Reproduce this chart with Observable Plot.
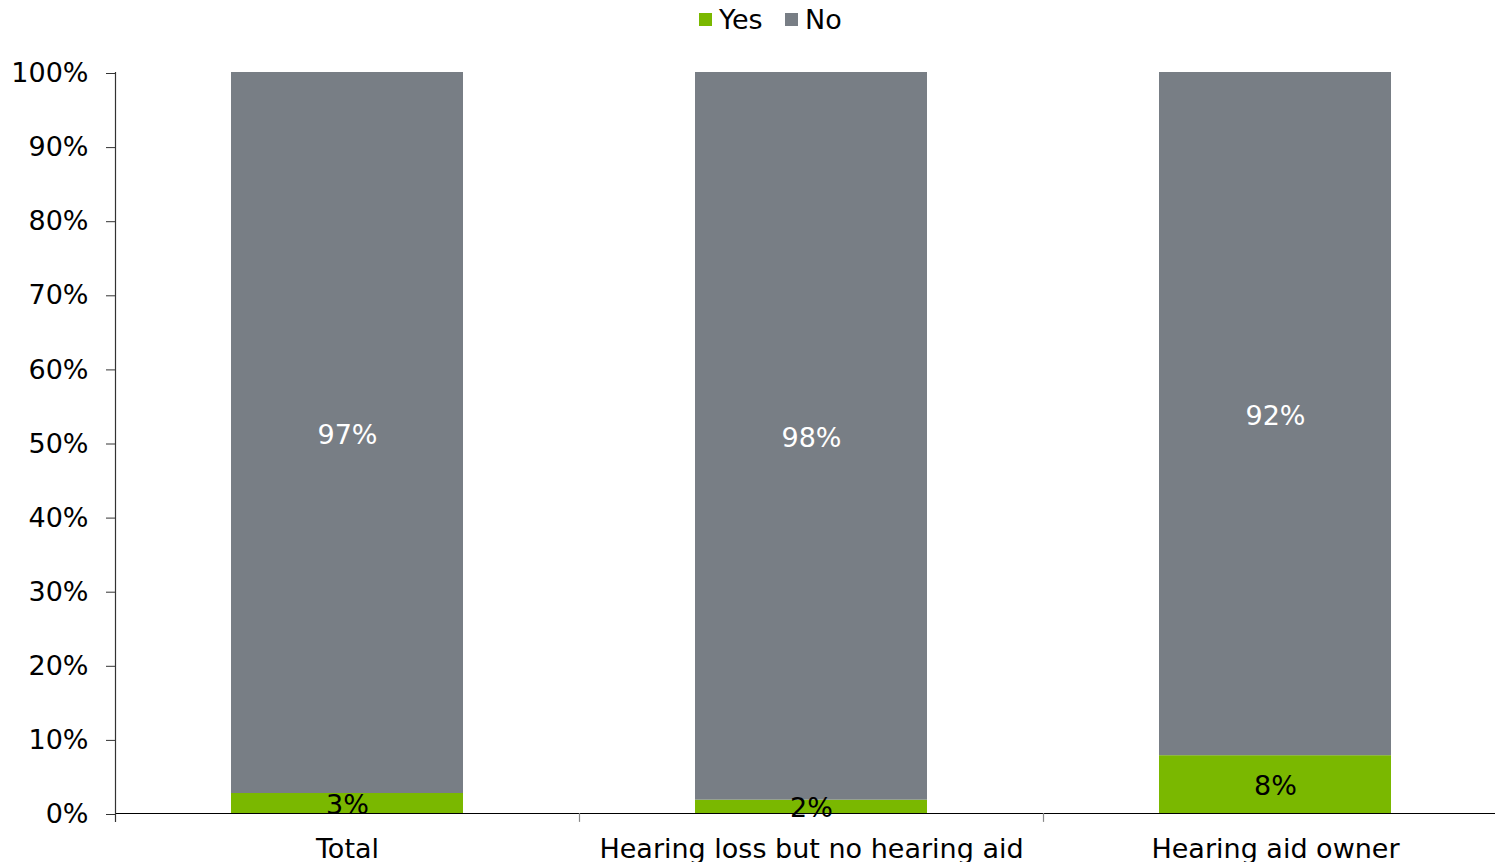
<!DOCTYPE html>
<html>
<head>
<meta charset="utf-8">
<script src="https://cdn.jsdelivr.net/npm/d3@7"></script>
<script src="https://cdn.jsdelivr.net/npm/@observablehq/plot@0.6"></script>
<style>
  html, body { margin: 0; padding: 0; background: #fff; overflow: hidden; }
  body { width: 1495px; height: 862px; font-family: "DejaVu Sans", Verdana, sans-serif; }
  #legend { height: 38px; position: relative; font-size: 27px; color: #000; }
  .item { position: absolute; top: 0; height: 38px; display: flex; align-items: center; }
  .sw { width: 13px; height: 13px; margin-right: 7px; }
  svg { display: block; overflow: visible; }
</style>
</head>
<body>
<div id="legend"></div>
<div id="chart"></div>
<script>
const categories = ["Total", "Hearing loss but no hearing aid", "Hearing aid owner"];
const seriesNames = ["Yes", "No"];
const seriesColors = ["#7AB800", "#787E85"];
const yesValues = [0.027, 0.018, 0.078];
const noValues = [0.973, 0.982, 0.922];
const yesLabels = ["3%", "2%", "8%"];
const noLabels = ["97%", "98%", "92%"];
const yTicks = [0, 0.1, 0.2, 0.3, 0.4, 0.5, 0.6, 0.7, 0.8, 0.9, 1.0];

const data = [];
categories.forEach((c, i) => {
  data.push({category: c, series: "Yes", value: yesValues[i], label: yesLabels[i]});
  data.push({category: c, series: "No", value: noValues[i], label: noLabels[i]});
});

// legend
const legend = document.getElementById("legend");
const legendLeft = [699, 785];
seriesNames.forEach((s, i) => {
  const it = document.createElement("div");
  it.className = "item";
  it.style.left = legendLeft[i] + "px";
  it.innerHTML = `<span class="sw" style="background:${seriesColors[i]}"></span><span>${s}</span>`;
  legend.appendChild(it);
});

const halfStep = -232;

const chart = Plot.plot({
  width: 1495,
  height: 824,
  marginTop: 34,
  marginBottom: 49,
  marginLeft: 115,
  marginRight: 0,
  style: {fontFamily: '"DejaVu Sans", Verdana, sans-serif', fontSize: "27px", color: "#000", background: "#fff"},
  x: {domain: categories, range: [115, 1507], paddingInner: 0.5, paddingOuter: 0.25, label: null},
  y: {domain: [0, 1], label: null},
  color: {domain: seriesNames, range: seriesColors},
  marks: [
    Plot.barY(data, Plot.stackY({x: "category", y: "value", fill: "series", order: seriesNames})),
    Plot.text(data, Plot.stackY({
      x: "category", y: "value", z: "series", order: seriesNames, text: "label",
      fill: d => d.series === "Yes" ? "#000" : "#fff", fontSize: 27, dy: 2
    })),
    Plot.ruleY([0], {stroke: "#000", strokeWidth: 1.2}),
    Plot.ruleX([categories[0]], {y1: -0.012, y2: 1, dx: halfStep, stroke: "#333", strokeWidth: 1.2}),
    Plot.ruleX(categories.slice(1), {y1: -0.012, y2: 0, dx: halfStep, stroke: "#888", strokeWidth: 1.2}),
    Plot.axisY({ticks: yTicks, tickFormat: d => Math.round(d * 100) + "%", tickSize: 9, tickPadding: 18, stroke: "#333", fill: "#000", label: null, dy: 1}),
    Plot.axisX({tickSize: 0, tickPadding: 25, fill: "#000", label: null})
  ]
});
document.getElementById("chart").appendChild(chart);
</script>
</body>
</html>
